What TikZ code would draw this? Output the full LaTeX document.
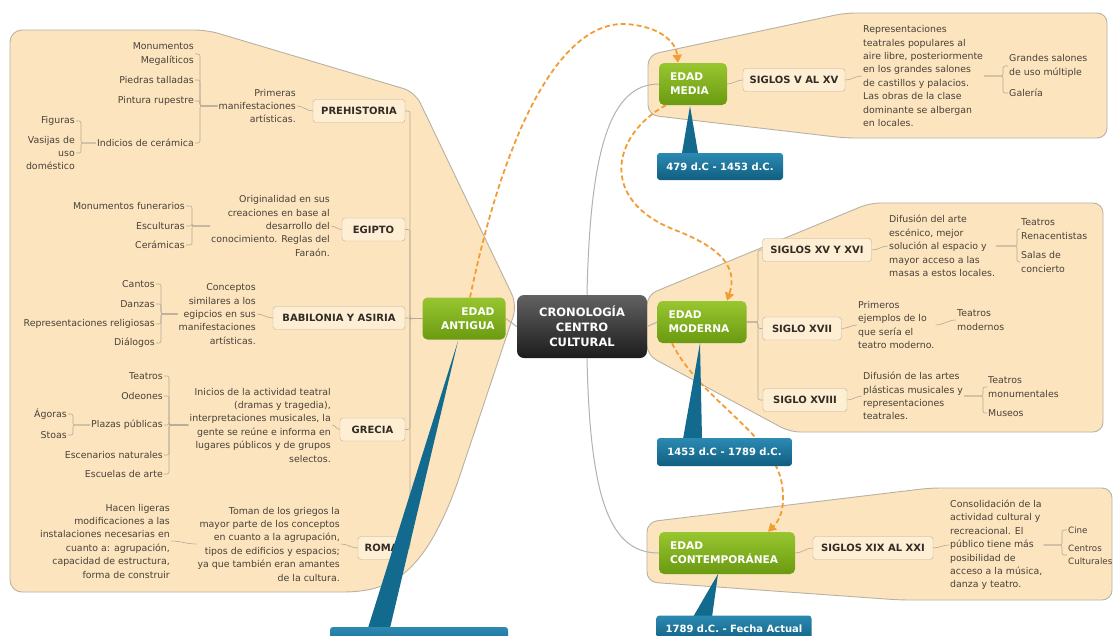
\documentclass[tikz,border=0pt]{standalone}
\usepackage{fontspec}
\setmainfont{DejaVu Sans}
\usetikzlibrary{arrows.meta,calc}

\definecolor{beige}{RGB}{252,229,190}
\definecolor{beigeline}{RGB}{185,177,163}
\definecolor{boxfill}{RGB}{253,238,212}
\definecolor{boxline}{RGB}{190,175,152}
\definecolor{txt}{RGB}{72,64,55}
\definecolor{boxtxt}{RGB}{50,44,36}
\definecolor{conncol}{RGB}{180,168,150}
\definecolor{greentop}{RGB}{152,198,48}
\definecolor{greenbot}{RGB}{106,154,16}
\definecolor{bluetop}{RGB}{44,138,178}
\definecolor{bluebot}{RGB}{16,94,128}
\definecolor{blueptr}{RGB}{18,106,142}
\definecolor{darktop}{RGB}{98,98,98}
\definecolor{darkbot}{RGB}{28,28,28}
\definecolor{orng}{RGB}{243,156,52}
\definecolor{mainline}{RGB}{178,178,178}

\tikzset{
  region/.style={fill=beige, draw=beigeline, line width=0.9pt},
  desc/.style={font=\fontsize{9.4}{13.4}\selectfont, text=txt, inner sep=1pt},
  topic/.style={draw=boxline, fill=boxfill, rounded corners=3pt, font=\fontsize{10}{12}\selectfont\bfseries, text=boxtxt, inner sep=0pt, minimum height=23pt},
  age/.style={top color=greentop, bottom color=greenbot, rounded corners=5pt, font=\fontsize{10.6}{14}\selectfont\bfseries, text=white, inner xsep=11pt, inner ysep=0pt, minimum height=42pt},
  root/.style={top color=darktop, bottom color=darkbot, rounded corners=7pt, font=\fontsize{11.5}{15}\selectfont\bfseries, text=white, align=center, inner sep=0pt, minimum width=130pt, minimum height=63pt},
  period/.style={top color=bluetop, bottom color=bluebot, rounded corners=3pt, font=\fontsize{10}{12}\selectfont\bfseries, text=white, inner sep=0pt},
  conn/.style={draw=conncol, line width=0.6pt, rounded corners=2pt},
  trunk/.style={draw=mainline, line width=1pt},
  jump/.style={draw=orng, line width=1.8pt, dash pattern=on 5pt off 3pt, -{Triangle[width=9pt,length=8pt]}}
}

\begin{document}
\begin{tikzpicture}[x=1pt,y=-1pt]
    \useasboundingbox (0,0) rectangle (1115,635);
    \fill[white] (0,0) rectangle (1115,635);

    \draw[region, rounded corners=12pt] (10,300) -- (10,30) -- (207,30) -- (415,92) -- (517,305) -- (455,490) .. controls (420,575) and (390,592) .. (330,592) -- (10,592) -- cycle;
    \draw[region, rounded corners=10pt] (648,85) -- (648,55) -- (845,13) -- (1107,13) -- (1107,138) -- (845,138) -- (648,115) -- cycle;
    \draw[region, rounded corners=10pt] (647,325) -- (647,295) -- (870,203) -- (1103,203) -- (1103,432) -- (790,432) -- (647,355) -- cycle;
    \draw[region, rounded corners=10pt] (647,550) -- (647,522) -- (930,488) -- (1112,488) -- (1112,600) -- (900,600) -- (647,582) -- cycle;

    \node[root] (cen) at (582,326.5) {CRONOLOGÍA\\CENTRO\\CULTURAL};
    \node[age, text width=61pt, align=right] (ant) at (464,318.5) {EDAD\\ANTIGUA};
    \node[age, text width=46pt, align=left] (med) at (693,84) {EDAD\\MEDIA};
    \node[age, text width=67pt, align=left] (mod) at (702,322) {EDAD\\MODERNA};
    \node[age, text width=114pt, align=left] (con) at (727,553) {EDAD\\CONTEMPORÁNEA};

    \node[topic, minimum width=92pt] (pre) at (359,111) {PREHISTORIA};
    \node[topic, minimum width=63pt] (egi) at (373.5,229.5) {EGIPTO};
    \node[topic, minimum width=132pt] (bab) at (339,318) {BABILONIA Y ASIRIA};
    \node[topic, minimum width=65pt] (gre) at (372.5,429.5) {GRECIA};
    \node[topic, minimum width=47pt] (rom) at (381.5,548) {ROMA};

    \node[desc, anchor=east, align=right] (dpre) at (297,106) {Primeras\\manifestaciones\\artísticas.};
    \node[desc, anchor=east, align=right] (pre1) at (195,54) {Monumentos\\Megalíticos};
    \node[desc, anchor=east, align=right] (pre2) at (195,80) {Piedras talladas};
    \node[desc, anchor=east, align=right] (pre3) at (195,101) {Pintura rupestre};
    \node[desc, anchor=east, align=right] (pre4) at (195,143) {Indicios de cerámica};
    \node[desc, anchor=east, align=right] (cer1) at (76,121) {Figuras};
    \node[desc, anchor=east, align=right] (cer2) at (76,153) {Vasijas de\\uso\\doméstico};

    \node[desc, anchor=east, align=right] (degi) at (331,226) {Originalidad en sus\\creaciones en base al\\desarrollo del\\conocimiento. Reglas del\\Faraón.};
    \node[desc, anchor=east, align=right] (egi1) at (186,206) {Monumentos funerarios};
    \node[desc, anchor=east, align=right] (egi2) at (186,226) {Esculturas};
    \node[desc, anchor=east, align=right] (egi3) at (186,245) {Cerámicas};

    \node[desc, anchor=east, align=right] (dbab) at (257,314) {Conceptos\\similares a los\\egipcios en sus\\manifestaciones\\artísticas.};
    \node[desc, anchor=east, align=right] (bab1) at (156,284) {Cantos};
    \node[desc, anchor=east, align=right] (bab2) at (156,304) {Danzas};
    \node[desc, anchor=east, align=right] (bab3) at (156,324) {Representaciones religiosas};
    \node[desc, anchor=east, align=right] (bab4) at (156,343) {Diálogos};

    \node[desc, anchor=east, align=right] (dgre) at (332,425) {Inicios de la actividad teatral\\(dramas y tragedia),\\interpretaciones musicales, la\\gente se reúne e informa en\\lugares públicos y de grupos\\selectos.};
    \node[desc, anchor=east, align=right] (gre1) at (164,376) {Teatros};
    \node[desc, anchor=east, align=right] (gre2) at (164,396) {Odeones};
    \node[desc, anchor=east, align=right] (gre3) at (164,425) {Plazas públicas};
    \node[desc, anchor=east, align=right] (gre4) at (164,455) {Escenarios naturales};
    \node[desc, anchor=east, align=right] (gre5) at (164,474) {Escuelas de arte};
    \node[desc, anchor=east, align=right] (pla1) at (68,414) {Ágoras};
    \node[desc, anchor=east, align=right] (pla2) at (68,435) {Stoas};

    \node[desc, anchor=east, align=right] (drom) at (341,544) {Toman de los griegos la\\mayor parte de los conceptos\\en cuanto a la agrupación,\\tipos de edificios y espacios;\\ya que también eran amantes\\de la cultura.};
    \node[desc, anchor=east, align=right] (rom1) at (171,541) {Hacen ligeras\\modificaciones a las\\instalaciones necesarias en\\cuanto a: agrupación,\\capacidad de estructura,\\forma de construir};

    \node[topic, minimum width=102pt] (sv) at (794,80) {SIGLOS V AL XV};
    \node[desc, anchor=west, align=left] (dsv) at (862,76) {Representaciones\\teatrales populares al\\aire libre, posteriormente\\en los grandes salones\\de castillos y palacios.\\Las obras de la clase\\dominante se albergan\\en locales.};
    \node[desc, anchor=west, align=left] (sv1) at (1008,66) {Grandes salones\\de uso múltiple};
    \node[desc, anchor=west, align=left] (sv2) at (1008,93) {Galería};

    \node[topic, minimum width=109pt] (sxv) at (817,250) {SIGLOS XV Y XVI};
    \node[topic, minimum width=79pt] (sxvii) at (802,328.5) {SIGLO XVII};
    \node[topic, minimum width=84pt] (sxviii) at (805,400) {SIGLO XVIII};
    \node[desc, anchor=west, align=left] (dsxv) at (888,246) {Difusión del arte\\escénico, mejor\\solución al espacio y\\mayor acceso a las\\masas a estos locales.};
    \node[desc, anchor=west, align=left] (sxv1) at (1020,229) {Teatros\\Renacentistas};
    \node[desc, anchor=west, align=left] (sxv2) at (1020,262) {Salas de\\concierto};
    \node[desc, anchor=west, align=left] (dsxvii) at (857,325) {Primeros\\ejemplos de lo\\que sería el\\teatro moderno.};
    \node[desc, anchor=west, align=left] (sxvii1) at (956,320) {Teatros\\modernos};
    \node[desc, anchor=west, align=left] (dsxviii) at (862,396) {Difusión de las artes\\plásticas musicales y\\representaciones\\teatrales.};
    \node[desc, anchor=west, align=left] (sxviii1) at (987,387) {Teatros\\monumentales};
    \node[desc, anchor=west, align=left] (sxviii2) at (987,413) {Museos};

    \node[topic, minimum width=120pt] (sxix) at (873,548) {SIGLOS XIX AL XXI};
    \node[desc, anchor=west, align=left] (dsxix) at (949,545) {Consolidación de la\\actividad cultural y\\recreacional. El\\público tiene más\\posibilidad de\\acceso a la música,\\danza y teatro.};
    \node[desc, anchor=west, align=left, font=\fontsize{8.7}{12.5}\selectfont] (sxix1) at (1067,530) {Cine};
    \node[desc, anchor=west, align=left, font=\fontsize{8.7}{12.5}\selectfont] (sxix2) at (1067,555) {Centros\\Culturales};

    \draw[trunk] (cen.west) -- (ant.east);
    \draw[trunk] (cen.east) -- (mod.west);
    \draw[trunk] ($(cen.north)+(5,0)$) .. controls (590,150) and (610,84) .. (med.west);
    \draw[trunk] ($(cen.south)+(5,0)$) .. controls (590,500) and (610,553) .. (con.west);

    \coordinate (kant) at (410,0);
    \foreach \t in {pre,egi,bab,gre,rom} {
        \draw[conn] (\t.east) -- (\t.east -| kant) |- (ant.west);
        \draw[conn] (\t.west) to[out=180,in=0] (d\t.east);
    }
    \coordinate (kpre) at (200,0);
    \foreach \i in {1,...,4}
        \draw[conn] (pre\i.east) -- (pre\i.east -| kpre) |- (dpre.west);
    \coordinate (kcer) at (81,0);
    \foreach \i in {1,2}
        \draw[conn] (cer\i.east) -- (cer\i.east -| kcer) |- (pre4.west);
    \coordinate (kegi) at (192,0);
    \foreach \i in {1,2,3}
        \draw[conn] (egi\i.east) -- (egi\i.east -| kegi) |- (degi.west);
    \coordinate (kbab) at (161,0);
    \foreach \i in {1,...,4}
        \draw[conn] (bab\i.east) -- (bab\i.east -| kbab) |- (dbab.west);
    \coordinate (kgre) at (169,0);
    \foreach \i in {1,...,5}
        \draw[conn] (gre\i.east) -- (gre\i.east -| kgre) |- (dgre.west);
    \coordinate (kpla) at (73,0);
    \foreach \i in {1,2}
        \draw[conn] (pla\i.east) -- (pla\i.east -| kpla) |- (gre3.west);
    \draw[conn] (rom1.east) to[out=0,in=180] (drom.west);

    \draw[conn] (med.east) to[out=0,in=180] (sv.west);
    \draw[conn] (sv.east) to[out=0,in=180] (dsv.west);
    \coordinate (ksv) at (1003,0);
    \foreach \i in {1,2}
        \draw[conn] (sv\i.west) -- (sv\i.west -| ksv) |- (dsv.east);

    \coordinate (kmod) at (758,0);
    \foreach \t in {sxv,sxvii,sxviii} {
        \draw[conn] (\t.west) -- (\t.west -| kmod) |- (mod.east);
        \draw[conn] (\t.east) to[out=0,in=180] (d\t.west);
    }
    \coordinate (ksxv) at (1017,0);
    \foreach \i in {1,2}
        \draw[conn] (sxv\i.west) -- (sxv\i.west -| ksxv) |- (dsxv.east);
    \draw[conn] (dsxvii.east) to[out=0,in=180] (sxvii1.west);
    \coordinate (ksxviii) at (983,0);
    \foreach \i in {1,2}
        \draw[conn] (sxviii\i.west) -- (sxviii\i.west -| ksxviii) |- (dsxviii.east);

    \draw[conn] (con.east) to[out=0,in=180] (sxix.west);
    \draw[conn] (sxix.east) to[out=0,in=180] (dsxix.west);
    \coordinate (ksxix) at (1062,0);
    \foreach \i in {1,2}
        \draw[conn] (sxix\i.west) -- (sxix\i.west -| ksxix) |- (dsxix.east);

    \draw[jump] ($(ant.north)+(6,0)$) .. controls (505,130) and (560,22) .. (625,24) .. controls (660,26) and (676,42) .. ($(med.north)+(-15,0)$);
    \draw[jump] ($(med.south west)+(7,0)$) .. controls (612,135) and (598,200) .. (675,230) .. controls (722,248) and (738,268) .. ($(mod.north)+(25,0)$);
    \draw[jump] ($(mod.south)+(-30,0)$) .. controls (700,400) and (775,435) .. (782,485) .. controls (786,510) and (778,522) .. ($(con.north)+(41,0)$);

    \fill[blueptr] (690,106) -- (682,153) -- (698,153) -- cycle;
    \fill[blueptr] (700,343) -- (683,439) -- (702,439) -- cycle;
    \fill[blueptr] (718,574) -- (693,617) -- (712,617) -- cycle;
    \fill[blueptr] (458,341) -- (368,628) -- (390,628) -- cycle;
    \node[period, minimum width=126pt, minimum height=27pt] (pmed) at (720,166.5) {479 d.C - 1453 d.C.};
    \node[period, minimum width=135pt, minimum height=28pt] (pmod) at (724.5,452) {1453 d.C - 1789 d.C.};
    \node[period, minimum width=155pt, minimum height=27pt] (pcon) at (734,629) {1789 d.C. - Fecha Actual};
    \node[period, minimum width=178pt, minimum height=28pt] (pant) at (419,641) {};
\end{tikzpicture}
\end{document}
